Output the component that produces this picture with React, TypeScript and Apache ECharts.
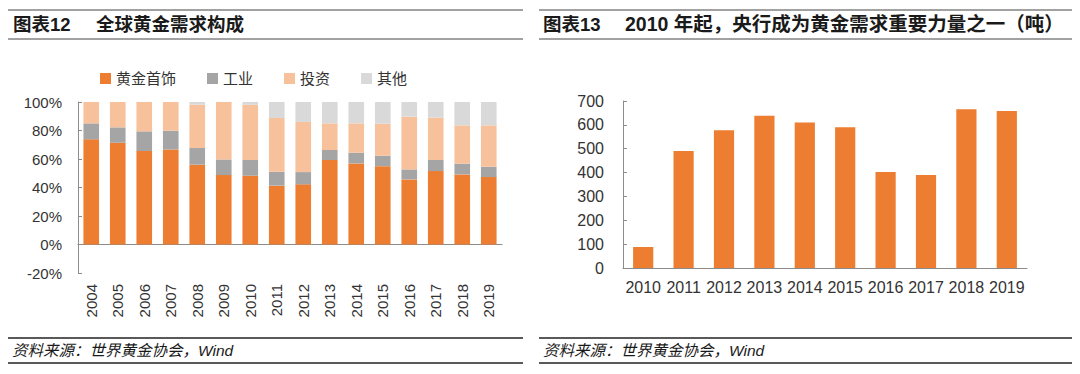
import React, { useEffect, useRef } from "react";
import * as echarts from "echarts";

const years1 = ["2004","2005","2006","2007","2008","2009","2010","2011","2012","2013","2014","2015","2016","2017","2018","2019"];
const jewelry = [73.8, 71.4, 65.6, 66.7, 56.0, 48.7, 48.2, 41.3, 42.2, 59.3, 56.9, 55.0, 45.7, 51.5, 49.2, 47.3];
const industry = [11.2, 10.8, 13.8, 13.2, 11.7, 11.0, 11.1, 9.7, 8.6, 7.0, 7.5, 7.3, 7.0, 7.8, 7.5, 7.3];
const investment = [15.0, 17.8, 20.6, 20.1, 30.4, 40.3, 38.8, 37.8, 35.2, 18.7, 20.6, 22.5, 37.0, 29.7, 26.9, 29.0];
const other = [0, 0, 0, 0, 1.9, 0, 1.9, 11.2, 14.0, 15.0, 15.0, 15.2, 10.3, 11.0, 16.4, 16.4];
const yTicks1 = [-20, 0, 20, 40, 60, 80, 100];

const years2 = ["2010","2011","2012","2013","2014","2015","2016","2017","2018","2019"];
const centralBank = [88, 490, 577, 638, 610, 590, 402, 390, 665, 658];
const yTicks2 = [0, 100, 200, 300, 400, 500, 600, 700];

const FONT = "'Liberation Sans', 'Noto Sans CJK SC', sans-serif";
const TXT = "#333333";
const AX = "#8c8c8c";
const ORANGE = "#ED7D31";

export default function App() {
  const ref = useRef<HTMLDivElement>(null);
  useEffect(() => {
    if (!ref.current) return;
    const chart = echarts.init(ref.current, null, { renderer: "svg" });
    const line = (x1: number, y1: number, x2: number, y2: number, w: number, c: string) => ({
      type: "line", shape: { x1, y1, x2, y2 }, style: { stroke: c, lineWidth: w }, silent: true,
    });
    const text = (x: number, y: number, t: string, fs: number, weight: string, style: string) => ({
      type: "text", x, y,
      style: { text: t, fontSize: fs, fontWeight: weight, fontStyle: style, fontFamily: FONT, fill: "#1a1a1a", verticalAlign: "middle", align: "left" },
      silent: true,
    });
    const barSeries = (name: string, data: number[], color: string) => ({
      name, type: "bar", stack: "total", data, xAxisIndex: 0, yAxisIndex: 0,
      barCategoryGap: "41%", itemStyle: { color }, emphasis: { disabled: true },
    });
    chart.setOption({
      animation: false,
      textStyle: { fontFamily: FONT },
      grid: [
        { left: 78, top: 102, width: 424, height: 171 },
        { left: 623, top: 101, width: 404, height: 167 },
      ],
      legend: {
        left: 95, top: 66, itemWidth: 11, itemHeight: 11, itemGap: 31,
        icon: "rect",
        data: ["黄金首饰", "工业", "投资", "其他"],
        textStyle: { fontSize: 15, color: TXT, fontFamily: FONT },
      },
      xAxis: [
        {
          type: "category", gridIndex: 0, data: years1,
          axisLine: { onZero: true, lineStyle: { color: AX } },
          axisTick: { inside: true, length: 4, lineStyle: { color: AX } },
          axisLabel: { rotate: 90, fontSize: 15, color: TXT, margin: 11, interval: 0 },
        },
        {
          type: "category", gridIndex: 1, data: years2,
          axisLine: { lineStyle: { color: AX } },
          axisTick: { inside: true, length: 4, lineStyle: { color: AX } },
          axisLabel: { fontSize: 16, color: TXT, margin: 11, interval: 0 },
        },
      ],
      yAxis: [
        {
          type: "value", gridIndex: 0, min: yTicks1[0], max: yTicks1[yTicks1.length - 1], interval: 20,
          axisLine: { show: true, lineStyle: { color: AX } },
          axisTick: { show: true, inside: true, length: 4, lineStyle: { color: AX } },
          splitLine: { show: false },
          axisLabel: { formatter: "{value}%", fontSize: 15, color: TXT, margin: 16 },
        },
        {
          type: "value", gridIndex: 1, min: yTicks2[0], max: yTicks2[yTicks2.length - 1], interval: 100,
          axisLine: { show: true, lineStyle: { color: AX } },
          axisTick: { show: true, inside: true, length: 4, lineStyle: { color: AX } },
          splitLine: { show: false },
          axisLabel: { fontSize: 16, color: TXT, margin: 19 },
        },
      ],
      series: [
        barSeries("黄金首饰", jewelry, ORANGE),
        barSeries("工业", industry, "#A5A5A5"),
        barSeries("投资", investment, "#F7C19C"),
        barSeries("其他", other, "#D9D9D9"),
        {
          name: "央行", type: "bar", data: centralBank, xAxisIndex: 1, yAxisIndex: 1,
          barCategoryGap: "50%", itemStyle: { color: ORANGE }, emphasis: { disabled: true },
        },
      ],
      graphic: [
        line(8, 10, 523, 10, 1, "#444"),
        line(8, 39, 523, 39, 1, "#444"),
        line(539, 10, 1072, 10, 1, "#444"),
        line(539, 39, 1072, 39, 1, "#444"),
        text(13, 24, "图表12", 18.5, "bold", "normal"),
        text(96, 24, "全球黄金需求构成", 18.5, "bold", "normal"),
        text(543, 24, "图表13", 18.5, "bold", "normal"),
        text(625, 24, "2010 年起，央行成为黄金需求重要力量之一（吨）", 19.5, "bold", "normal"),
        line(8, 338, 523, 338, 1.5, "#222"),
        line(8, 363, 523, 363, 1.5, "#222"),
        line(539, 338, 1072, 338, 1.5, "#222"),
        line(539, 363, 1072, 363, 1.5, "#222"),
        text(12, 350, "资料来源：世界黄金协会，Wind", 15.5, "normal", "italic"),
        text(543, 350, "资料来源：世界黄金协会，Wind", 15.5, "normal", "italic"),
      ],
    });
    return () => chart.dispose();
  }, []);
  return (
    <div
      ref={ref}
      style={{ position: "fixed", left: 0, top: 0, width: 1080, height: 374, background: "#fff" }}
    />
  );
}
